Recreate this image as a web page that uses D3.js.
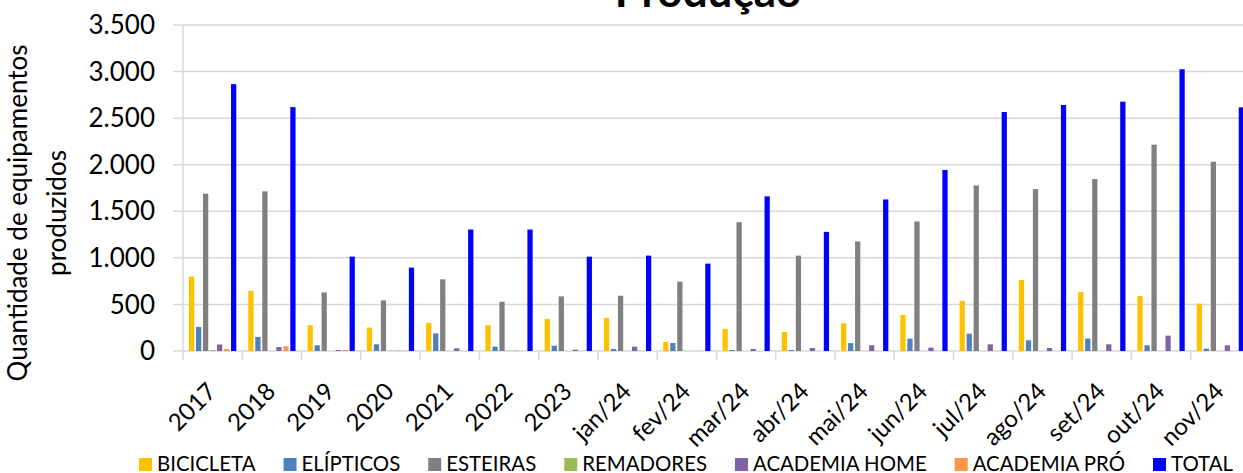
<!DOCTYPE html>
<html>
<head>
<meta charset="utf-8">
<script src="https://cdn.jsdelivr.net/npm/d3@7"></script>
<style>
    body { margin: 0; background: #fff; overflow: hidden; }
    svg { display: block; font-family: Lato, "Open Sans", sans-serif; }
</style>
</head>
<body>
<div id="chart"></div>
<script>
const categories = [
    "2017", "2018", "2019", "2020", "2021", "2022", "2023", "jan/24", "fev/24",
    "mar/24", "abr/24", "mai/24", "jun/24", "jul/24", "ago/24", "set/24", "out/24", "nov/24"
];
const seriesNames = ["BICICLETA", "ELÍPTICOS", "ESTEIRAS", "REMADORES", "ACADEMIA HOME", "ACADEMIA PRÓ", "TOTAL"];

const bicicleta    = [800, 645, 277, 252, 302, 277, 345, 356, 97, 237, 205, 298, 387, 538, 763, 634, 591, 509];
const elipticos    = [259, 151, 61, 72, 190, 47, 57, 22, 86, 11, 11, 85, 133, 186, 115, 133, 61, 25];
const esteiras     = [1689, 1714, 629, 543, 769, 528, 586, 593, 744, 1383, 1024, 1177, 1391, 1778, 1738, 1846, 2215, 2032];
const remadores    = [10, 0, 0, 3, 0, 4, 0, 0, 0, 0, 0, 0, 0, 0, 0, 0, 0, 0];
const academiaHome = [70, 43, 11, 3, 29, 4, 14, 47, 0, 22, 32, 61, 36, 72, 32, 72, 165, 61];
const academiaPro  = [20, 50, 11, 3, 0, 0, 0, 0, 0, 0, 0, 0, 0, 0, 0, 0, 0, 0];
const total        = [2865, 2619, 1013, 895, 1304, 1304, 1013, 1024, 938, 1660, 1279, 1627, 1943, 2566, 2641, 2677, 3025, 2616];

const yTicks = [0, 500, 1000, 1500, 2000, 2500, 3000, 3500];
const colors = ["#FFC000", "#4F81BD", "#808080", "#9BBB59", "#8064A2", "#F79646", "#0000FF"];

const seriesValues = [bicicleta, elipticos, esteiras, remadores, academiaHome, academiaPro, total];

const width = 1243, height = 473;
const margin = { left: 183, top: 25, bottom: 122 };
const plotRight = 1250; // plot runs past the window edge, as in the original

const ptBR = d3.formatLocale({ decimal: ",", thousands: ".", grouping: [3], currency: ["R$", ""] });
const fmt = ptBR.format(",d");

const svg = d3.select("#chart").append("svg")
    .attr("width", width)
    .attr("height", height);

const x0 = d3.scaleBand()
    .domain(categories)
    .range([margin.left, plotRight]);

const x1 = d3.scaleBand()
    .domain(seriesNames)
    .range([6, x0.bandwidth() - 6])
    .paddingInner(0.25);

const y = d3.scaleLinear()
    .domain([0, 3500])
    .range([height - margin.bottom, margin.top]);

// grid
svg.append("g")
    .selectAll("line")
    .data(yTicks)
    .join("line")
    .attr("x1", margin.left - 10)
    .attr("x2", plotRight)
    .attr("y1", d => y(d))
    .attr("y2", d => y(d))
    .attr("stroke", "#d9d9d9")
    .attr("stroke-width", 1.5);

// y axis line
svg.append("line")
    .attr("x1", margin.left).attr("x2", margin.left)
    .attr("y1", y(3500)).attr("y2", y(0) + 9)
    .attr("stroke", "#d9d9d9")
    .attr("stroke-width", 1.5);

// x tick marks between categories
svg.append("g")
    .selectAll("line")
    .data(categories.slice(1))
    .join("line")
    .attr("x1", d => x0(d))
    .attr("x2", d => x0(d))
    .attr("y1", y(0))
    .attr("y2", y(0) + 9)
    .attr("stroke", "#d9d9d9")
    .attr("stroke-width", 1.5);

// y labels
svg.append("g")
    .selectAll("text")
    .data(yTicks)
    .join("text")
    .attr("x", 155)
    .attr("y", d => y(d))
    .attr("dy", "0.35em")
    .attr("text-anchor", "end")
    .attr("font-size", 26)
    .attr("fill", "#000")
    .text(d => fmt(d));

// bars
const groups = svg.append("g")
    .selectAll("g")
    .data(categories)
    .join("g")
    .attr("transform", d => `translate(${x0(d)},0)`);

groups.selectAll("rect")
    .data((c, i) => seriesNames.map((s, j) => ({ s, j, v: seriesValues[j][i] })))
    .join("rect")
    .filter(d => d.v > 0)
    .attr("x", d => x1(d.s))
    .attr("width", x1.bandwidth())
    .attr("y", d => y(d.v))
    .attr("height", d => y(0) - y(d.v))
    .attr("fill", d => colors[d.j]);

// x labels
svg.append("g")
    .selectAll("text")
    .data(categories)
    .join("text")
    .attr("transform", d => `translate(${x0(d) + x0.bandwidth() / 2 + 5},${y(0) + 42}) rotate(-45)`)
    .attr("text-anchor", "end")
    .attr("font-size", 24)
    .attr("fill", "#000")
    .text(d => d);

// y axis title
const yTitle = svg.append("text")
    .attr("transform", `translate(0,213) rotate(-90)`)
    .attr("text-anchor", "middle")
    .attr("font-size", 26)
    .attr("fill", "#000");
yTitle.append("tspan").attr("x", 0).attr("y", 27).text("Quantidade de equipamentos");
yTitle.append("tspan").attr("x", 0).attr("y", 66).text("produzidos");

// title
svg.append("text")
    .attr("x", 708)
    .attr("y", 7)
    .attr("text-anchor", "middle")
    .attr("font-size", 44)
    .attr("font-weight", "bold")
    .attr("fill", "#000")
    .text("Produção");

// legend
const legend = svg.append("g");
let lx = 0;
seriesNames.forEach((name, i) => {
    const item = legend.append("g").attr("transform", `translate(${lx},0)`);
    item.append("rect")
        .attr("x", 0).attr("y", 458)
        .attr("width", 13).attr("height", 13)
        .attr("fill", colors[i]);
    const t = item.append("text")
        .attr("x", 18).attr("y", 471)
        .attr("font-size", 20.4)
        .attr("fill", "#000")
        .text(name);
    lx += 18 + t.node().getComputedTextLength() + 28;
});
const legendWidth = lx - 28;
legend.attr("transform", `translate(${686 - legendWidth / 2},0)`);
</script>
</body>
</html>
